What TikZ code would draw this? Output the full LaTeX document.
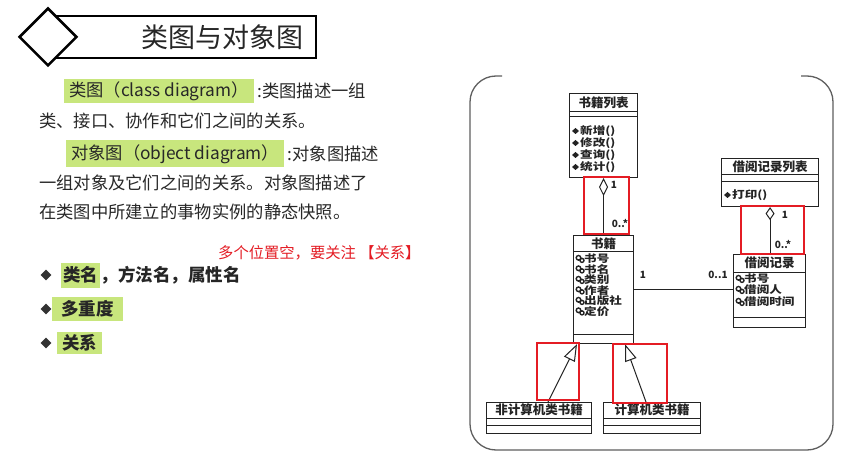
\documentclass[tikz,border=0pt]{standalone}
\usepackage{fontspec}
\usepackage{graphicx}
\setmainfont{Noto Sans CJK SC}
\usetikzlibrary{arrows.meta,calc,shapes.geometric}
\definecolor{hlgreen}{RGB}{200,230,125}
\definecolor{txt}{RGB}{40,40,40}
\definecolor{redbox}{RGB}{228,28,36}
\definecolor{uml}{RGB}{35,35,35}
\definecolor{framec}{RGB}{95,95,95}
\newcommand\umlsep[2]{\draw[line width=1pt,uml] ($(#1.north west)+(0,#2)$) -- ($(#1.north east)+(0,#2)$);}
\newcommand\micon[2]{\fill[uml] (#1-3.5,#2) -- (#1,#2-3) -- (#1+3.5,#2) -- (#1,#2+3) -- cycle;}
\newcommand\aicon[2]{\draw[uml,line width=1.4pt] (#1,#2-1.2) circle (2.3pt) (#1+3.5,#2+1.4) circle (2pt);}
\newcommand\wide[1]{\scalebox{1.22}[1]{#1}}
\begin{document}
\begin{tikzpicture}[x=1pt,y=-1pt,
  para/.style={font=\fontsize{17.3}{20}\selectfont, text=txt, inner sep=0pt, anchor=west},
  hl/.style={para, fill=hlgreen, inner xsep=5pt, minimum height=24pt},
  bpara/.style={font=\fontsize{17.5}{20}\selectfont\bfseries, text=black!85, inner sep=0pt, anchor=west},
  bhl/.style={bpara, fill=hlgreen, minimum height=24pt},
  bullet/.style={diamond, fill=black!80, minimum width=11pt, minimum height=11pt, inner sep=0pt},
  cls/.style={draw=uml, line width=1.1pt, anchor=north west, inner sep=0pt},
  cname/.style={font=\fontsize{12.5}{13}\selectfont\bfseries, text=uml, inner sep=0pt},
  item/.style={font=\fontsize{10.3}{10}\selectfont\bfseries, text=uml, inner sep=0pt, anchor=west},
  mult/.style={font=\fontsize{10}{10}\selectfont\bfseries, text=uml, inner sep=0pt},
  conn/.style={draw=uml, line width=1pt},
  rbox/.style={draw=redbox, line width=1.8pt},
]
\useasboundingbox (0,0) rectangle (847,476);
\fill[white] (0,0) rectangle (847,476);

% ---------- header ----------
\node[draw=black, line width=1.8pt, anchor=north west, minimum width=267pt, minimum height=42pt, inner sep=0pt] (hdr) at (48,15) {};
\node[diamond, draw=black, line width=2.5pt, fill=white, minimum width=58pt, minimum height=58pt, inner sep=0pt] (hdia) at (48,37) {};
\node[font=\fontsize{27}{30}\selectfont, text=black!85, inner sep=0pt] (title) at (222,37) {类图与对象图};

% ---------- paragraphs ----------
\node[hl] (h1) at (64,91) {类图（class diagram）};
\node[para] (t1) at ($(h1.east)+(3,0)$) {:类图描述一组};
\node[para] (l2) at (39,121) {类、接口、协作和它们之间的关系。};
\node[hl, minimum height=27pt] (h2) at (66,154) {对象图（object diagram）};
\node[para] (t2) at ($(h2.east)+(3,0)$) {:对象图描述};
\node[para] (l4) at (39,183) {一组对象及它们之间的关系。对象图描述了};
\node[para] (l5) at (39,212) {在类图中所建立的事物实例的静态快照。};

\node[font=\fontsize{15.3}{16}\selectfont, text=redbox, anchor=west, inner sep=0pt] (note) at (218,253) {多个位置空，要关注 【关系】};

\node[bullet] (b1) at (46,275) {};
\node[bhl, inner xsep=2pt, minimum height=25pt] (bh1) at (61,275) {类名};
\node[bpara] (bt1) at (bh1.east) {，方法名，属性名};
\node[bullet] (b2) at (46,309) {};
\node[bhl, inner xsep=9pt] (bh2) at (52,309) {多重度};
\node[bullet] (b3) at (46,343) {};
\node[bhl, inner xsep=5pt, minimum height=22pt] (bh3) at (57,343) {关系};

% ---------- frame ----------
\draw[framec, line width=1.3pt, rounded corners=26pt] (502,76) -- (470,76) -- (470,450) -- (833,450) -- (833,76) -- (801,76);

% ---------- classes ----------
\node[cls, minimum width=68pt, minimum height=84pt] (bl) at (569,93) {};
\umlsep{bl}{19} \umlsep{bl}{24}
\node[cname] (blname) at ($(bl.north)+(0,9.5)$) {书籍列表};
\foreach \t [count=\i from 0] in {新增(),修改(),查询(),统计()} {
  \micon{575.5}{131+12*\i}
  \node[item] (blm\i) at (580,131+12*\i) {\wide{\t}};
}

\node[cls, minimum width=60pt, minimum height=108pt] (sj) at (573,235) {};
\umlsep{sj}{17} \umlsep{sj}{99}
\node[cname] (sjname) at ($(sj.north)+(0,8.5)$) {书籍};
\foreach \t [count=\i from 0] in {书号,书名,类别,作者,出版社,定价} {
  \aicon{578.5}{259+10.5*\i}
  \node[item] (sja\i) at (584,259+10.5*\i) {\wide{\t}};
}

\node[cls, minimum width=97pt, minimum height=48pt] (jllb) at (721,158) {};
\umlsep{jllb}{17} \umlsep{jllb}{24}
\node[cname] (jllbname) at ($(jllb.north)+(0,8.5)$) {借阅记录列表};
\micon{727.5}{195}
\node[item] (jllbm) at (732,195) {\wide{打印()}};

\node[cls, minimum width=72pt, minimum height=73pt] (jl) at (733,254) {};
\umlsep{jl}{18} \umlsep{jl}{63}
\node[cname] (jlname) at ($(jl.north)+(0,9)$) {借阅记录};
\foreach \t/\yy [count=\i from 0] in {书号/279,借阅人/290,借阅时间/302} {
  \aicon{738.5}{\yy}
  \node[item] (jla\i) at (744,\yy) {\wide{\t}};
}

\node[cls, minimum width=105pt, minimum height=31pt] (fj) at (486,402) {};
\umlsep{fj}{16} \umlsep{fj}{23}
\node[cname] (fjname) at ($(fj.north)+(0,8)$) {非计算机类书籍};

\node[cls, minimum width=97pt, minimum height=31pt] (jj) at (603,402) {};
\umlsep{jj}{16} \umlsep{jj}{23}
\node[cname] (jjname) at ($(jj.north)+(0,8)$) {计算机类书籍};

% ---------- connectors ----------
\draw[conn, {Diamond[open, length=18pt, width=9pt, line width=1pt]}-] (bl.south) -- (sj.north);
\node[mult] (m1) at (614,185) {1};
\node[mult] (m2) at (620,223) {0..*};

\draw[conn, {Diamond[open, length=13pt, width=9pt, line width=1pt]}-] (jllb.south) -- (jllb.south |- jl.north);
\node[mult] (m3) at (785,215) {1};
\node[mult] (m4) at (783,244) {0..*};

\draw[conn] (sj.east) -- (sj.east -| jl.west);
\node[mult] (m5) at (643,275) {1};
\node[mult] (m6) at (718,275) {0..1};

\coordinate (ga1) at ($(sj.south west)+(4,0)$);
\coordinate (gb1) at ($(fj.north west)+(62,0)$);
\coordinate (ga2) at ($(sj.south west)+(52,0)$);
\coordinate (gb2) at ($(jj.north west)+(43,0)$);
\draw[conn, -{Triangle[open, length=17pt, width=12pt, line width=1pt]}] (gb1) -- (ga1);
\draw[conn, -{Triangle[open, length=17pt, width=12pt, line width=1pt]}] (gb2) -- (ga2);

% ---------- red boxes ----------
\draw[rbox] (584,177) rectangle (629,234);
\draw[rbox] (741,206) rectangle (804,254);
\draw[rbox] (537,343) rectangle (579,400);
\draw[rbox] (613,344) rectangle (667,403);
\end{tikzpicture}
\end{document}
